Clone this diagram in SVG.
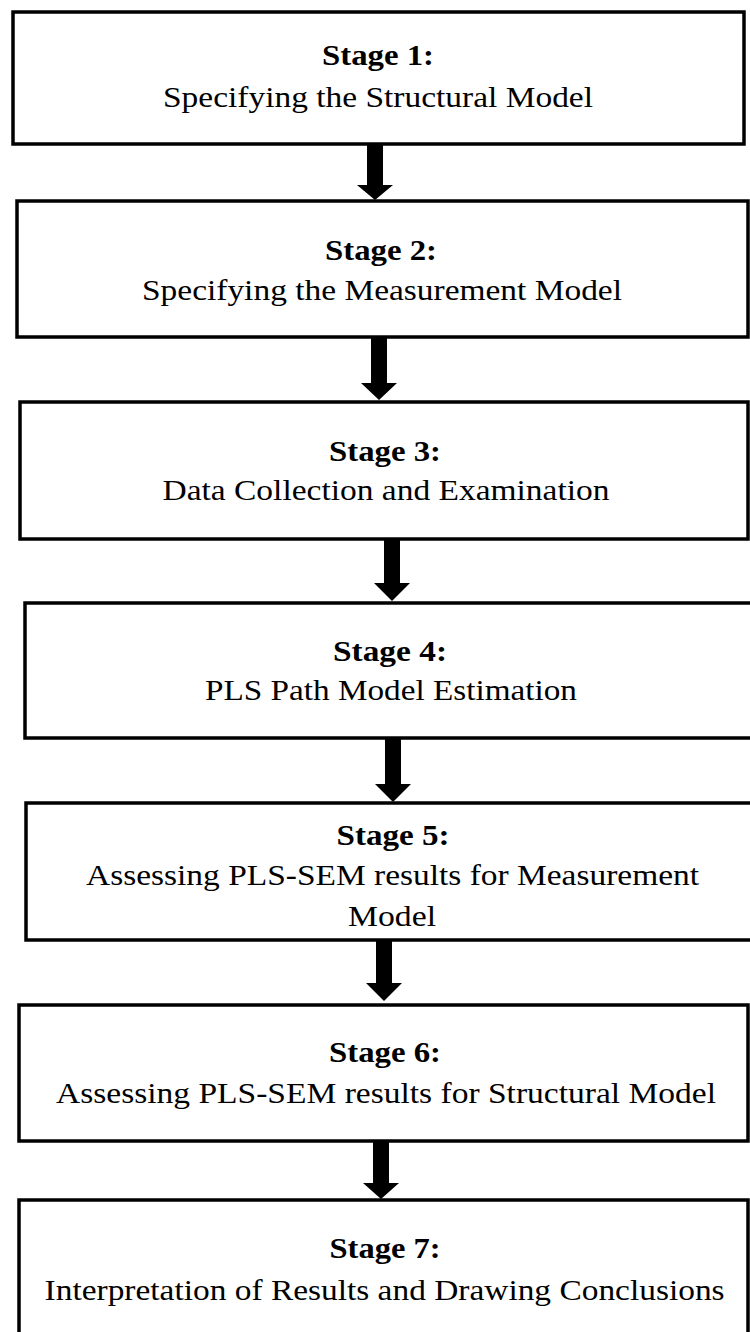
<svg xmlns="http://www.w3.org/2000/svg" width="750" height="1332" viewBox="0 0 750 1332">
<style>
.box{fill:#fff;stroke:#000;stroke-width:3.5}
.t{font-family:"Liberation Serif","Times New Roman",serif;font-size:30px;fill:#000;text-anchor:middle}
.b{font-weight:bold}
.arr{fill:#000}
</style>
<rect width="750" height="1332" fill="#fff"/>
<g id="node1">
<rect class="box" x="13" y="12" width="731" height="132"/>
<text class="t b" x="378" y="65" textLength="112" lengthAdjust="spacingAndGlyphs">Stage 1:</text>
<text class="t" x="378" y="107" textLength="430" lengthAdjust="spacingAndGlyphs">Specifying the Structural Model</text>
</g>
<g id="node2">
<rect class="box" x="17" y="201" width="731" height="136"/>
<text class="t b" x="381" y="260" textLength="112" lengthAdjust="spacingAndGlyphs">Stage 2:</text>
<text class="t" x="382" y="300" textLength="480" lengthAdjust="spacingAndGlyphs">Specifying the Measurement Model</text>
</g>
<g id="node3">
<rect class="box" x="20" y="402" width="728" height="137"/>
<text class="t b" x="385" y="461" textLength="112" lengthAdjust="spacingAndGlyphs">Stage 3:</text>
<text class="t" x="386" y="500" textLength="447" lengthAdjust="spacingAndGlyphs">Data Collection and Examination</text>
</g>
<g id="node4">
<rect class="box" x="25" y="603" width="730" height="135"/>
<text class="t b" x="390" y="661" textLength="114" lengthAdjust="spacingAndGlyphs">Stage 4:</text>
<text class="t" x="391" y="700" textLength="372" lengthAdjust="spacingAndGlyphs">PLS Path Model Estimation</text>
</g>
<g id="node5">
<rect class="box" x="26" y="803" width="730" height="137"/>
<text class="t b" x="393" y="845" textLength="113" lengthAdjust="spacingAndGlyphs">Stage 5:</text>
<text class="t" x="392.5" y="885" textLength="613" lengthAdjust="spacingAndGlyphs">Assessing PLS-SEM results for Measurement</text>
<text class="t" x="392" y="926" textLength="88" lengthAdjust="spacingAndGlyphs">Model</text>
</g>
<g id="node6">
<rect class="box" x="19" y="1005" width="729" height="136"/>
<text class="t b" x="385" y="1062" textLength="112" lengthAdjust="spacingAndGlyphs">Stage 6:</text>
<text class="t" x="386" y="1103" textLength="660" lengthAdjust="spacingAndGlyphs">Assessing PLS-SEM results for Structural Model</text>
</g>
<g id="node7">
<rect class="box" x="19" y="1200" width="729" height="145"/>
<text class="t b" x="385" y="1258" textLength="111" lengthAdjust="spacingAndGlyphs">Stage 7:</text>
<text class="t" x="384.6" y="1300" textLength="680" lengthAdjust="spacingAndGlyphs">Interpretation of Results and Drawing Conclusions</text>
</g>
<g id="connectors">
<path class="arr" d="M367,145 H383 V185 H393 L375,200 L357,185 H367 Z"/>
<path class="arr" d="M371,338 H387 V383 H397 L379,400 L361,383 H371 Z"/>
<path class="arr" d="M384,540 H400 V583 H410 L392,601 L374,583 H384 Z"/>
<path class="arr" d="M385,739 H401 V784 H411 L393,802 L375,784 H385 Z"/>
<path class="arr" d="M376,941 H392 V983 H402 L384,1001 L366,983 H376 Z"/>
<path class="arr" d="M373,1142 H389 V1183 H399 L381,1199 L363,1183 H373 Z"/>
</g>
</svg>
